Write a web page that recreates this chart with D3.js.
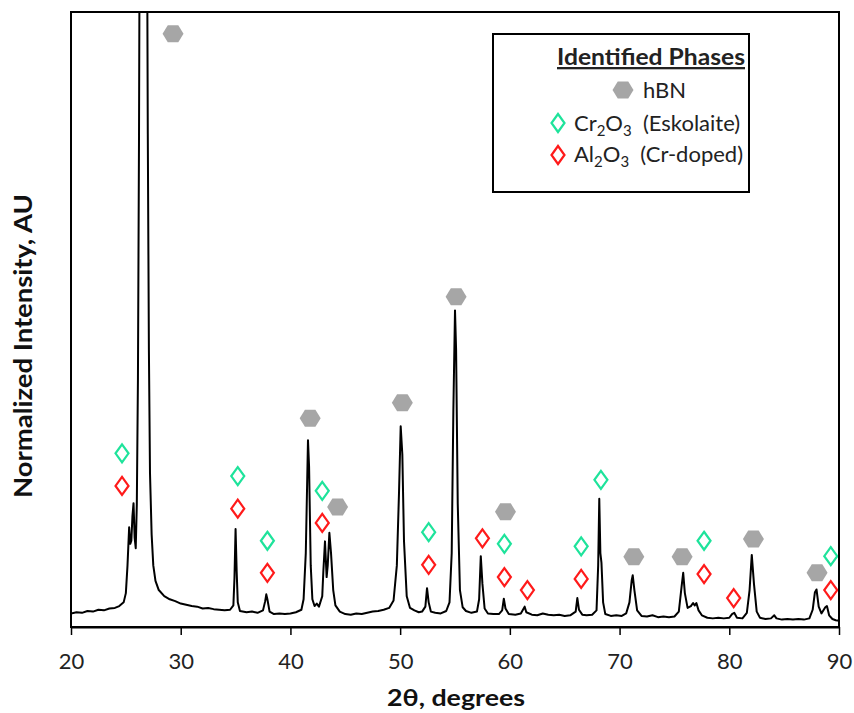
<!DOCTYPE html>
<html>
<head>
<meta charset="utf-8">
<script src="https://cdn.jsdelivr.net/npm/d3@7"></script>
<style>
  html, body { margin: 0; padding: 0; background: #fff; }
  svg { display: block; font-family: Lato, "Open Sans", sans-serif; }
</style>
</head>
<body>
<svg id="chart" width="854" height="713"></svg>
<script>
// ---------------- DATA ----------------
const xTicks = [20, 30, 40, 50, 60, 70, 80, 90];

// XRD pattern: [2θ (deg), normalized intensity]
const pattern = [
  [20.0,2.2],[20.5,2.4],[21.0,2.3],[21.5,2.6],[22.0,2.5],[22.5,2.8],[23.0,2.7],[23.5,3.0],
  [24.0,3.1],[24.4,3.4],[24.8,4.0],[25.0,5.5],[25.15,10],[25.3,16.2],[25.4,13.5],[25.5,14],
  [25.6,18],[25.7,20.1],[25.8,14.5],[25.9,12.8],[26.0,20],[26.1,40],[26.2,80],[26.3,140],
  [26.45,250],[26.6,300],[26.75,250],[26.9,130],[27.0,80],[27.1,45],[27.2,25],[27.35,15],
  [27.5,10],[27.7,7.5],[28.0,6],[28.5,5],[29.0,4.5],[29.5,4.2],[30.0,3.8],[30.5,3.6],
  [31.0,3.4],[31.5,3.3],[32.0,3.0],[32.5,3.1],[33.0,2.9],[33.5,2.8],[34.0,2.7],[34.5,2.8],
  [34.8,3.5],[34.9,8],[35.0,15.9],[35.1,9],[35.2,4],[35.4,2.6],[36.0,2.4],[36.5,2.5],
  [37.0,2.3],[37.5,2.7],[37.7,4.2],[37.8,5.3],[37.9,4.5],[38.1,2.5],[38.5,2.1],[39.0,2.2],
  [39.5,2.1],[40.0,2.2],[40.5,2.4],[41.0,2.8],[41.2,4.5],[41.4,12],[41.6,30.3],[41.7,26],
  [41.85,10],[42.0,4.5],[42.2,3.4],[42.4,3.8],[42.6,3.3],[42.9,5],[43.0,9],[43.15,13.9],
  [43.3,8.1],[43.4,10],[43.55,15.3],[43.7,12],[43.9,6],[44.1,3.5],[44.5,2.5],[45.0,2.1],
  [45.5,2.0],[46.0,2.2],[46.5,2.1],[47.0,2.3],[47.5,2.5],[48.0,2.6],[48.5,2.8],[49.0,3.1],
  [49.4,4.3],[49.7,10],[49.9,22],[50.05,32.6],[50.2,28],[50.35,14],[50.6,5],[50.9,3.1],
  [51.3,2.7],[51.7,2.4],[52.0,2.5],[52.3,3.3],[52.45,6.3],[52.6,4],[52.8,2.5],[53.2,2.3],
  [53.7,2.2],[54.2,2.6],[54.5,4],[54.7,12],[54.85,35],[55.0,51.4],[55.1,45],[55.25,20],
  [55.45,6],[55.7,3.2],[56.0,2.6],[56.5,2.3],[57.0,2.5],[57.2,4.5],[57.35,11.5],[57.5,7],
  [57.7,3.0],[58.0,2.2],[58.5,2.1],[59.0,2.1],[59.3,2.7],[59.45,4.6],[59.6,3.0],[59.9,2.1],
  [60.5,2.0],[61.0,2.2],[61.35,3.3],[61.5,2.4],[62.0,2.0],[62.5,1.9],[63.0,2.2],[63.5,2.0],
  [64.0,1.9],[64.5,2.0],[65.0,1.8],[65.5,1.9],[66.0,2.5],[66.15,4.7],[66.3,2.8],[66.6,2.0],
  [67.0,1.9],[67.5,2.0],[67.9,2.7],[68.05,10],[68.15,20.8],[68.25,12],[68.35,10.4],[68.5,4],
  [68.7,2.1],[69.2,1.8],[69.7,1.9],[70.2,1.8],[70.6,2.2],[70.9,4],[71.1,7.5],[71.2,8.4],
  [71.35,6],[71.6,2.7],[72.0,1.8],[72.5,1.7],[73.0,1.9],[73.5,1.6],[74.0,1.7],[74.5,1.6],
  [75.0,1.7],[75.4,2.5],[75.65,6.5],[75.8,8.8],[75.95,5.5],[76.2,3.1],[76.5,3.4],[76.7,3.9],
  [76.85,3.5],[77.0,3.9],[77.2,2.7],[77.5,1.9],[78.0,1.5],[78.5,1.4],[79.0,1.5],[79.5,1.4],
  [80.0,1.5],[80.25,2.1],[80.45,2.3],[80.7,1.5],[81.2,1.4],[81.6,2.3],[81.85,6],[82.05,11.7],
  [82.25,7],[82.5,2.5],[82.8,1.5],[83.3,1.3],[83.8,1.4],[84.1,1.9],[84.3,1.4],[84.8,1.2],
  [85.3,1.3],[85.8,1.2],[86.3,1.3],[86.8,1.2],[87.3,1.4],[87.6,2.8],[87.8,5.6],[87.95,6.1],
  [88.15,3.3],[88.4,2.2],[88.75,3.2],[88.9,3.4],[89.1,1.9],[89.4,1.3],[89.7,1.1],[90.0,1.0]
];

// Phase markers: [2θ, marker height in intensity units]
const hbnMarkers = [
  [29.3,96.3],[41.8,33.9],[44.3,19.5],[50.2,36.4],[55.1,53.6],
  [59.6,18.7],[71.3,11.4],[75.7,11.4],[82.2,14.3],[88.0,8.8]
];
const cr2o3Markers = [
  [24.65,28.2],[35.2,24.5],[37.9,14.0],[42.9,22.1],[52.6,15.4],
  [59.5,13.5],[66.5,13.1],[68.3,23.9],[77.7,14.0],[89.25,11.5]
];
const al2o3Markers = [
  [24.65,22.9],[35.2,19.2],[37.9,8.8],[42.9,16.9],[52.6,10.1],[57.5,14.4],
  [59.5,8.1],[61.6,6.0],[66.5,7.8],[77.7,8.6],[80.4,4.7],[89.25,6.0]
];

const legendTitle = "Identified Phases";

// ---------------- LAYOUT ----------------
const svg = d3.select("#chart");
const plot = { left: 71, right: 839, top: 12, bottom: 627 };

const x = d3.scaleLinear().domain([20, 90]).range([plot.left, plot.right]);
const y = d3.scaleLinear().domain([0, 100]).range([plot.bottom, 11]);

const HBN_COLOR = "#a6a6a6";
const CR_COLOR = "#1ee39b";
const AL_COLOR = "#ff1a1a";

svg.append("defs").append("clipPath").attr("id", "clip")
  .append("rect")
  .attr("x", plot.left).attr("y", plot.top)
  .attr("width", plot.right - plot.left).attr("height", plot.bottom - plot.top);

// pattern line
const line = d3.line().x(d => x(d[0])).y(d => y(d[1]));
svg.append("path")
  .datum(pattern)
  .attr("clip-path", "url(#clip)")
  .attr("d", line)
  .attr("fill", "none")
  .attr("stroke", "#000")
  .attr("stroke-width", 2)
  .attr("stroke-linejoin", "round");

// markers
const hexPath = (w, h) => {
  const a = w / 2, b = w / 4, c = h / 2;
  return `M${-a},0L${-b},${-c}L${b},${-c}L${a},0L${b},${c}L${-b},${c}Z`;
};
const diamondPath = (w, h) => `M0,${-h/2}L${w/2},0L0,${h/2}L${-w/2},0Z`;

svg.append("g").selectAll("path").data(hbnMarkers).join("path")
  .attr("transform", d => `translate(${x(d[0])},${y(d[1])})`)
  .attr("d", hexPath(21, 17))
  .attr("fill", HBN_COLOR);

svg.append("g").selectAll("path").data(cr2o3Markers).join("path")
  .attr("transform", d => `translate(${x(d[0])},${y(d[1])})`)
  .attr("d", diamondPath(13, 18))
  .attr("fill", "none").attr("stroke", CR_COLOR).attr("stroke-width", 2.2);

svg.append("g").selectAll("path").data(al2o3Markers).join("path")
  .attr("transform", d => `translate(${x(d[0])},${y(d[1])})`)
  .attr("d", diamondPath(13, 18))
  .attr("fill", "none").attr("stroke", AL_COLOR).attr("stroke-width", 2.2);

// plot frame
svg.append("rect")
  .attr("x", plot.left).attr("y", plot.top)
  .attr("width", plot.right - plot.left).attr("height", plot.bottom - plot.top)
  .attr("fill", "none").attr("stroke", "#000").attr("stroke-width", 2);

// x axis
const xAxis = d3.axisBottom(x).tickValues(xTicks).tickSize(8).tickSizeOuter(0).tickPadding(6);
const gx = svg.append("g").attr("transform", `translate(0,${plot.bottom})`).call(xAxis);
gx.select(".domain").attr("stroke", "#000").attr("stroke-width", 2);
gx.selectAll(".tick line").attr("stroke", "#000").attr("stroke-width", 1.5);
gx.selectAll(".tick text")
  .attr("font-family", "Lato, sans-serif")
  .attr("font-size", 22).attr("fill", "#222")
  .attr("dy", null).attr("y", 42);

// axis titles
svg.append("text")
  .attr("x", 456).attr("y", 706)
  .attr("text-anchor", "middle")
  .attr("font-weight", "bold").attr("font-size", 23).attr("fill", "#111")
  .attr("textLength", 138).attr("lengthAdjust", "spacingAndGlyphs")
  .text("2θ, degrees");

svg.append("text")
  .attr("transform", "translate(32,346) rotate(-90)")
  .attr("text-anchor", "middle")
  .attr("font-weight", "bold").attr("font-size", 24).attr("fill", "#111")
  .attr("textLength", 304).attr("lengthAdjust", "spacingAndGlyphs")
  .text("Normalized Intensity, AU");

// legend
const lg = svg.append("g");
lg.append("rect")
  .attr("x", 493).attr("y", 34).attr("width", 256).attr("height", 158)
  .attr("fill", "#fff").attr("stroke", "#000").attr("stroke-width", 2);
lg.append("text")
  .attr("x", 651).attr("y", 65).attr("text-anchor", "middle")
  .attr("font-weight", "bold").attr("font-size", 23).attr("fill", "#222")
  .attr("textLength", 188).attr("lengthAdjust", "spacingAndGlyphs")
  .attr("text-decoration", "underline")
  .text(legendTitle);

lg.append("path").attr("transform", "translate(623,90)").attr("d", hexPath(21, 17)).attr("fill", HBN_COLOR);
lg.append("text").attr("x", 643).attr("y", 98).attr("font-size", 22).attr("fill", "#222").text("hBN");

lg.append("path").attr("transform", "translate(558,123)").attr("d", diamondPath(13, 18))
  .attr("fill", "none").attr("stroke", CR_COLOR).attr("stroke-width", 2.2);
const t1 = lg.append("text").attr("x", 574).attr("y", 131).attr("font-size", 22).attr("fill", "#222");
t1.append("tspan").text("Cr");
t1.append("tspan").attr("dy", 5).attr("font-size", 15).text("2");
t1.append("tspan").attr("dy", -5).text("O");
t1.append("tspan").attr("dy", 5).attr("font-size", 15).text("3");
t1.append("tspan").attr("dy", -5).attr("xml:space", "preserve").text("  (Eskolaite)");

lg.append("path").attr("transform", "translate(558,155)").attr("d", diamondPath(13, 18))
  .attr("fill", "none").attr("stroke", AL_COLOR).attr("stroke-width", 2.2);
const t2 = lg.append("text").attr("x", 574).attr("y", 162).attr("font-size", 22).attr("fill", "#222");
t2.append("tspan").text("Al");
t2.append("tspan").attr("dy", 5).attr("font-size", 15).text("2");
t2.append("tspan").attr("dy", -5).text("O");
t2.append("tspan").attr("dy", 5).attr("font-size", 15).text("3");
t2.append("tspan").attr("dy", -5).attr("xml:space", "preserve").text("  (Cr-doped)");
</script>
</body>
</html>
